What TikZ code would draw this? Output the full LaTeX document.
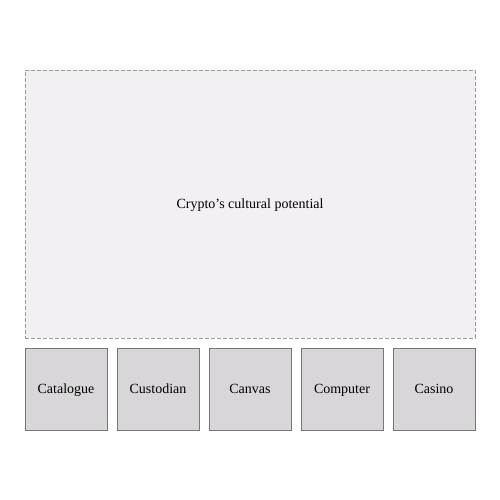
\documentclass[tikz,border=0pt]{standalone}
\usepackage{fontspec}
\setmainfont{Liberation Serif}
\usetikzlibrary{positioning}
\definecolor{framefill}{HTML}{F2F0F2}
\definecolor{framedraw}{HTML}{9A9A9A}
\definecolor{catfill}{HTML}{D8D6D8}
\definecolor{catdraw}{HTML}{777777}
\begin{document}
\begin{tikzpicture}[x=1pt,y=1pt,font=\fontsize{14}{16}\selectfont,
    frame/.style={draw=framedraw,fill=framefill,dash pattern=on 4pt off 2pt,line width=0.9pt,minimum width=450pt,minimum height=268pt,inner sep=0pt,outer sep=0pt,text height=2ex,text depth=0ex},
    cat/.style={draw=catdraw,fill=catfill,line width=0.9pt,minimum size=82pt,inner sep=0pt,outer sep=0pt,text height=2ex,text depth=0ex}] %
    \useasboundingbox (0,0) rectangle (500,500);
    \node[frame] (potential) at (250,296) {Crypto’s cultural potential} ; %
    \node[cat] (catalogue) at (66,111) {Catalogue} ; %
    \node[cat, right=10pt of catalogue] (custodian) {Custodian} ; %
    \node[cat, right=10pt of custodian] (canvas) {Canvas} ; %
    \node[cat, right=10pt of canvas] (computer) {Computer};
    \node[cat, right=10pt of computer] (casino) {Casino};
  \end{tikzpicture}
\end{document}
